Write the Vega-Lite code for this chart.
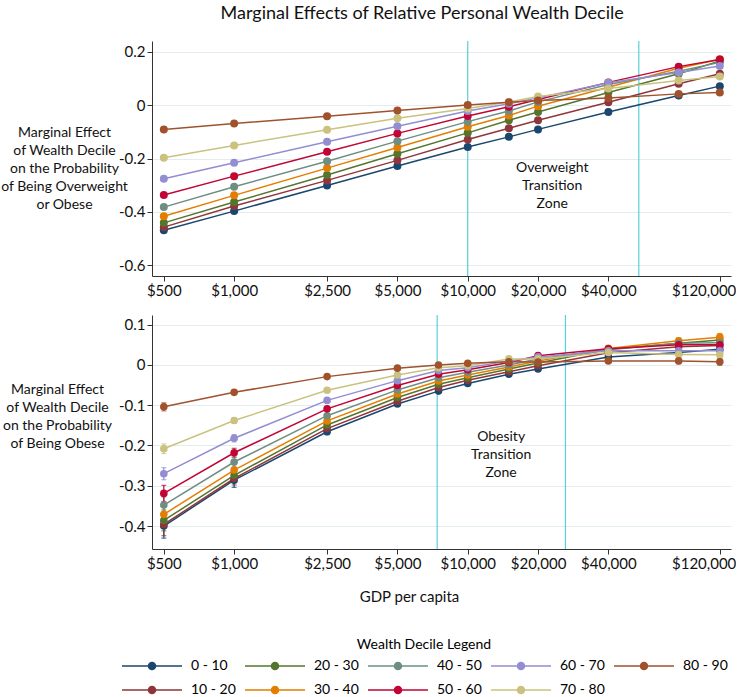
{
"$schema":"https://vega.github.io/schema/vega-lite/v6.json",
"padding":{"left":0,"top":5,"right":0,"bottom":0},
"title":{"text":"Marginal Effects of Relative Personal Wealth Decile","fontSize":18,"font":"Lato","fontWeight":"normal","anchor":"middle","frame":"bounds","offset":17,"dx":54,"color":"#111"},
"config":{"font":"Lato","view":{"stroke":null},
"axis":{"labelFont":"Lato","titleFont":"Lato","labelFontSize":15,"labelColor":"#111","domainColor":"#333","tickColor":"#333","gridColor":"#e3eded","titleFontWeight":"normal","titleColor":"#111","tickSize":5,"labelOverlap":false}},
"datasets":{
"ow":[
{"gdp":500,"decile":"0 - 10","me":-0.469},{"gdp":1000,"decile":"0 - 10","me":-0.397},{"gdp":2500,"decile":"0 - 10","me":-0.301},{"gdp":5000,"decile":"0 - 10","me":-0.228},{"gdp":10000,"decile":"0 - 10","me":-0.157},{"gdp":15000,"decile":"0 - 10","me":-0.119},{"gdp":20000,"decile":"0 - 10","me":-0.091},{"gdp":40000,"decile":"0 - 10","me":-0.026},{"gdp":80000,"decile":"0 - 10","me":0.036},{"gdp":120000,"decile":"0 - 10","me":0.071},
{"gdp":500,"decile":"10 - 20","me":-0.457},{"gdp":1000,"decile":"10 - 20","me":-0.378},{"gdp":2500,"decile":"10 - 20","me":-0.282},{"gdp":5000,"decile":"10 - 20","me":-0.207},{"gdp":10000,"decile":"10 - 20","me":-0.129},{"gdp":15000,"decile":"10 - 20","me":-0.087},{"gdp":20000,"decile":"10 - 20","me":-0.057},{"gdp":40000,"decile":"10 - 20","me":0.011},{"gdp":80000,"decile":"10 - 20","me":0.080},{"gdp":120000,"decile":"10 - 20","me":0.117},
{"gdp":500,"decile":"20 - 30","me":-0.441},{"gdp":1000,"decile":"20 - 30","me":-0.363},{"gdp":2500,"decile":"20 - 30","me":-0.262},{"gdp":5000,"decile":"20 - 30","me":-0.182},{"gdp":10000,"decile":"20 - 30","me":-0.104},{"gdp":15000,"decile":"20 - 30","me":-0.057},{"gdp":20000,"decile":"20 - 30","me":-0.026},{"gdp":40000,"decile":"20 - 30","me":0.047},{"gdp":80000,"decile":"20 - 30","me":0.117},{"gdp":120000,"decile":"20 - 30","me":0.165},
{"gdp":500,"decile":"30 - 40","me":-0.416},{"gdp":1000,"decile":"30 - 40","me":-0.338},{"gdp":2500,"decile":"30 - 40","me":-0.236},{"gdp":5000,"decile":"30 - 40","me":-0.159},{"gdp":10000,"decile":"30 - 40","me":-0.081},{"gdp":15000,"decile":"30 - 40","me":-0.039},{"gdp":20000,"decile":"30 - 40","me":-0.004},{"gdp":40000,"decile":"30 - 40","me":0.067},{"gdp":80000,"decile":"30 - 40","me":0.138},{"gdp":120000,"decile":"30 - 40","me":0.172},
{"gdp":500,"decile":"40 - 50","me":-0.382},{"gdp":1000,"decile":"40 - 50","me":-0.306},{"gdp":2500,"decile":"40 - 50","me":-0.210},{"gdp":5000,"decile":"40 - 50","me":-0.135},{"gdp":10000,"decile":"40 - 50","me":-0.062},{"gdp":15000,"decile":"40 - 50","me":-0.022},{"gdp":20000,"decile":"40 - 50","me":0.012},{"gdp":40000,"decile":"40 - 50","me":0.077},{"gdp":80000,"decile":"40 - 50","me":0.127},{"gdp":120000,"decile":"40 - 50","me":0.160},
{"gdp":500,"decile":"50 - 60","me":-0.337},{"gdp":1000,"decile":"50 - 60","me":-0.266},{"gdp":2500,"decile":"50 - 60","me":-0.175},{"gdp":5000,"decile":"50 - 60","me":-0.106},{"gdp":10000,"decile":"50 - 60","me":-0.041},{"gdp":15000,"decile":"50 - 60","me":-0.006},{"gdp":20000,"decile":"50 - 60","me":0.021},{"gdp":40000,"decile":"50 - 60","me":0.085},{"gdp":80000,"decile":"50 - 60","me":0.144},{"gdp":120000,"decile":"50 - 60","me":0.171},
{"gdp":500,"decile":"60 - 70","me":-0.276},{"gdp":1000,"decile":"60 - 70","me":-0.216},{"gdp":2500,"decile":"60 - 70","me":-0.137},{"gdp":5000,"decile":"60 - 70","me":-0.079},{"gdp":10000,"decile":"60 - 70","me":-0.022},{"gdp":15000,"decile":"60 - 70","me":0.005},{"gdp":20000,"decile":"60 - 70","me":0.027},{"gdp":40000,"decile":"60 - 70","me":0.084},{"gdp":80000,"decile":"60 - 70","me":0.122},{"gdp":120000,"decile":"60 - 70","me":0.146},
{"gdp":500,"decile":"70 - 80","me":-0.197},{"gdp":1000,"decile":"70 - 80","me":-0.151},{"gdp":2500,"decile":"70 - 80","me":-0.092},{"gdp":5000,"decile":"70 - 80","me":-0.049},{"gdp":10000,"decile":"70 - 80","me":-0.013},{"gdp":15000,"decile":"70 - 80","me":0.012},{"gdp":20000,"decile":"70 - 80","me":0.032},{"gdp":40000,"decile":"70 - 80","me":0.062},{"gdp":80000,"decile":"70 - 80","me":0.092},{"gdp":120000,"decile":"70 - 80","me":0.107},
{"gdp":500,"decile":"80 - 90","me":-0.091},{"gdp":1000,"decile":"80 - 90","me":-0.069},{"gdp":2500,"decile":"80 - 90","me":-0.042},{"gdp":5000,"decile":"80 - 90","me":-0.020},{"gdp":10000,"decile":"80 - 90","me":0.000},{"gdp":15000,"decile":"80 - 90","me":0.011},{"gdp":20000,"decile":"80 - 90","me":0.017},{"gdp":40000,"decile":"80 - 90","me":0.027},{"gdp":80000,"decile":"80 - 90","me":0.042},{"gdp":120000,"decile":"80 - 90","me":0.047}
],
"ob":[
{"gdp":500,"decile":"0 - 10","me":-0.400,"lo":-0.430,"hi":-0.370},{"gdp":1000,"decile":"0 - 10","me":-0.286,"lo":-0.304,"hi":-0.268},{"gdp":2500,"decile":"0 - 10","me":-0.166,"lo":-0.173,"hi":-0.159},{"gdp":5000,"decile":"0 - 10","me":-0.097,"lo":-0.101,"hi":-0.093},{"gdp":7500,"decile":"0 - 10","me":-0.065,"lo":-0.068,"hi":-0.062},{"gdp":10000,"decile":"0 - 10","me":-0.046,"lo":-0.049,"hi":-0.043},{"gdp":15000,"decile":"0 - 10","me":-0.023,"lo":-0.026,"hi":-0.020},{"gdp":20000,"decile":"0 - 10","me":-0.010,"lo":-0.013,"hi":-0.007},{"gdp":40000,"decile":"0 - 10","me":0.020,"lo":0.016,"hi":0.024},{"gdp":80000,"decile":"0 - 10","me":0.031,"lo":0.024,"hi":0.038},{"gdp":120000,"decile":"0 - 10","me":0.039,"lo":0.030,"hi":0.048},
{"gdp":500,"decile":"10 - 20","me":-0.396,"lo":-0.424,"hi":-0.368},{"gdp":1000,"decile":"10 - 20","me":-0.282,"lo":-0.298,"hi":-0.266},{"gdp":2500,"decile":"10 - 20","me":-0.158,"lo":-0.165,"hi":-0.151},{"gdp":5000,"decile":"10 - 20","me":-0.090,"lo":-0.094,"hi":-0.086},{"gdp":7500,"decile":"10 - 20","me":-0.056,"lo":-0.059,"hi":-0.053},{"gdp":10000,"decile":"10 - 20","me":-0.038,"lo":-0.041,"hi":-0.035},{"gdp":15000,"decile":"10 - 20","me":-0.017,"lo":-0.020,"hi":-0.014},{"gdp":20000,"decile":"10 - 20","me":-0.002,"lo":-0.005,"hi":0.001},{"gdp":40000,"decile":"10 - 20","me":0.030,"lo":0.026,"hi":0.034},{"gdp":80000,"decile":"10 - 20","me":0.045,"lo":0.038,"hi":0.052},{"gdp":120000,"decile":"10 - 20","me":0.048,"lo":0.039,"hi":0.057},
{"gdp":500,"decile":"20 - 30","me":-0.386,"lo":-0.412,"hi":-0.360},{"gdp":1000,"decile":"20 - 30","me":-0.274,"lo":-0.288,"hi":-0.260},{"gdp":2500,"decile":"20 - 30","me":-0.149,"lo":-0.155,"hi":-0.143},{"gdp":5000,"decile":"20 - 30","me":-0.081,"lo":-0.085,"hi":-0.077},{"gdp":7500,"decile":"20 - 30","me":-0.048,"lo":-0.051,"hi":-0.045},{"gdp":10000,"decile":"20 - 30","me":-0.032,"lo":-0.035,"hi":-0.029},{"gdp":15000,"decile":"20 - 30","me":-0.010,"lo":-0.013,"hi":-0.007},{"gdp":20000,"decile":"20 - 30","me":0.005,"lo":0.002,"hi":0.008},{"gdp":40000,"decile":"20 - 30","me":0.039,"lo":0.035,"hi":0.043},{"gdp":80000,"decile":"20 - 30","me":0.054,"lo":0.047,"hi":0.061},{"gdp":120000,"decile":"20 - 30","me":0.062,"lo":0.053,"hi":0.071},
{"gdp":500,"decile":"30 - 40","me":-0.371,"lo":-0.395,"hi":-0.347},{"gdp":1000,"decile":"30 - 40","me":-0.261,"lo":-0.274,"hi":-0.248},{"gdp":2500,"decile":"30 - 40","me":-0.139,"lo":-0.145,"hi":-0.133},{"gdp":5000,"decile":"30 - 40","me":-0.072,"lo":-0.076,"hi":-0.068},{"gdp":7500,"decile":"30 - 40","me":-0.040,"lo":-0.043,"hi":-0.037},{"gdp":10000,"decile":"30 - 40","me":-0.025,"lo":-0.028,"hi":-0.022},{"gdp":15000,"decile":"30 - 40","me":-0.005,"lo":-0.008,"hi":-0.002},{"gdp":20000,"decile":"30 - 40","me":0.010,"lo":0.007,"hi":0.013},{"gdp":40000,"decile":"30 - 40","me":0.041,"lo":0.037,"hi":0.045},{"gdp":80000,"decile":"30 - 40","me":0.060,"lo":0.053,"hi":0.067},{"gdp":120000,"decile":"30 - 40","me":0.069,"lo":0.060,"hi":0.078},
{"gdp":500,"decile":"40 - 50","me":-0.348,"lo":-0.368,"hi":-0.328},{"gdp":1000,"decile":"40 - 50","me":-0.241,"lo":-0.253,"hi":-0.229},{"gdp":2500,"decile":"40 - 50","me":-0.126,"lo":-0.132,"hi":-0.120},{"gdp":5000,"decile":"40 - 50","me":-0.062,"lo":-0.066,"hi":-0.058},{"gdp":7500,"decile":"40 - 50","me":-0.032,"lo":-0.035,"hi":-0.029},{"gdp":10000,"decile":"40 - 50","me":-0.018,"lo":-0.021,"hi":-0.015},{"gdp":15000,"decile":"40 - 50","me":0.000,"lo":-0.003,"hi":0.003},{"gdp":20000,"decile":"40 - 50","me":0.015,"lo":0.012,"hi":0.018},{"gdp":40000,"decile":"40 - 50","me":0.038,"lo":0.034,"hi":0.042},{"gdp":80000,"decile":"40 - 50","me":0.054,"lo":0.047,"hi":0.061},{"gdp":120000,"decile":"40 - 50","me":0.055,"lo":0.046,"hi":0.064},
{"gdp":500,"decile":"50 - 60","me":-0.319,"lo":-0.339,"hi":-0.299},{"gdp":1000,"decile":"50 - 60","me":-0.218,"lo":-0.229,"hi":-0.207},{"gdp":2500,"decile":"50 - 60","me":-0.109,"lo":-0.115,"hi":-0.103},{"gdp":5000,"decile":"50 - 60","me":-0.051,"lo":-0.055,"hi":-0.047},{"gdp":7500,"decile":"50 - 60","me":-0.023,"lo":-0.026,"hi":-0.020},{"gdp":10000,"decile":"50 - 60","me":-0.012,"lo":-0.015,"hi":-0.009},{"gdp":15000,"decile":"50 - 60","me":0.006,"lo":0.003,"hi":0.009},{"gdp":20000,"decile":"50 - 60","me":0.023,"lo":0.020,"hi":0.026},{"gdp":40000,"decile":"50 - 60","me":0.040,"lo":0.036,"hi":0.044},{"gdp":80000,"decile":"50 - 60","me":0.050,"lo":0.043,"hi":0.057},{"gdp":120000,"decile":"50 - 60","me":0.050,"lo":0.041,"hi":0.059},
{"gdp":500,"decile":"60 - 70","me":-0.270,"lo":-0.285,"hi":-0.255},{"gdp":1000,"decile":"60 - 70","me":-0.182,"lo":-0.191,"hi":-0.173},{"gdp":2500,"decile":"60 - 70","me":-0.088,"lo":-0.093,"hi":-0.083},{"gdp":5000,"decile":"60 - 70","me":-0.039,"lo":-0.043,"hi":-0.035},{"gdp":7500,"decile":"60 - 70","me":-0.014,"lo":-0.017,"hi":-0.011},{"gdp":10000,"decile":"60 - 70","me":-0.007,"lo":-0.010,"hi":-0.004},{"gdp":15000,"decile":"60 - 70","me":0.010,"lo":0.007,"hi":0.013},{"gdp":20000,"decile":"60 - 70","me":0.020,"lo":0.017,"hi":0.023},{"gdp":40000,"decile":"60 - 70","me":0.035,"lo":0.031,"hi":0.039},{"gdp":80000,"decile":"60 - 70","me":0.035,"lo":0.028,"hi":0.042},{"gdp":120000,"decile":"60 - 70","me":0.035,"lo":0.026,"hi":0.044},
{"gdp":500,"decile":"70 - 80","me":-0.208,"lo":-0.220,"hi":-0.196},{"gdp":1000,"decile":"70 - 80","me":-0.138,"lo":-0.145,"hi":-0.131},{"gdp":2500,"decile":"70 - 80","me":-0.063,"lo":-0.068,"hi":-0.058},{"gdp":5000,"decile":"70 - 80","me":-0.025,"lo":-0.029,"hi":-0.021},{"gdp":7500,"decile":"70 - 80","me":-0.007,"lo":-0.010,"hi":-0.004},{"gdp":10000,"decile":"70 - 80","me":-0.002,"lo":-0.005,"hi":0.001},{"gdp":15000,"decile":"70 - 80","me":0.015,"lo":0.012,"hi":0.018},{"gdp":20000,"decile":"70 - 80","me":0.015,"lo":0.012,"hi":0.018},{"gdp":40000,"decile":"70 - 80","me":0.031,"lo":0.027,"hi":0.035},{"gdp":80000,"decile":"70 - 80","me":0.026,"lo":0.019,"hi":0.033},{"gdp":120000,"decile":"70 - 80","me":0.025,"lo":0.016,"hi":0.034},
{"gdp":500,"decile":"80 - 90","me":-0.104,"lo":-0.114,"hi":-0.094},{"gdp":1000,"decile":"80 - 90","me":-0.068,"lo":-0.074,"hi":-0.062},{"gdp":2500,"decile":"80 - 90","me":-0.029,"lo":-0.033,"hi":-0.025},{"gdp":5000,"decile":"80 - 90","me":-0.008,"lo":-0.012,"hi":-0.004},{"gdp":7500,"decile":"80 - 90","me":0.000,"lo":-0.003,"hi":0.003},{"gdp":10000,"decile":"80 - 90","me":0.004,"lo":0.001,"hi":0.007},{"gdp":15000,"decile":"80 - 90","me":0.008,"lo":0.005,"hi":0.011},{"gdp":20000,"decile":"80 - 90","me":0.007,"lo":0.004,"hi":0.010},{"gdp":40000,"decile":"80 - 90","me":0.010,"lo":0.006,"hi":0.014},{"gdp":80000,"decile":"80 - 90","me":0.010,"lo":0.003,"hi":0.017},{"gdp":120000,"decile":"80 - 90","me":0.008,"lo":-0.001,"hi":0.017}
],
"owzone":[{"gdp":10000},{"gdp":54000}],
"obzone":[{"gdp":7400},{"gdp":26200}],
"owlabel":[{"gdp":23000,"me":-0.21,"label":"Overweight\nTransition\nZone"}],
"oblabel":[{"gdp":13900,"me":-0.161,"label":"Obesity\nTransition\nZone"}]
},
"spacing":16,
"vconcat":[
{"width":579,"height":235,
"layer":[
{"data":{"name":"owzone"},"mark":{"type":"rule","color":"#55d0dc","strokeWidth":1.2},
"encoding":{"x":{"field":"gdp","type":"quantitative","scale":{"type":"log","domain":[445,134000],"nice":false}}}},
{"data":{"name":"ow"},"mark":{"type":"line","strokeWidth":1.5},
"encoding":{
"x":{"field":"gdp","type":"quantitative","scale":{"type":"log","domain":[445,134000],"nice":false},"axis":{"title":null,"values":[500,1000,2500,5000,10000,20000,40000,120000],"format":"$,.0f","grid":false,"labelFlush":11.5,"labelFlushOffset":16}},
"y":{"field":"me","type":"quantitative","scale":{"domain":[-0.64,0.24],"nice":false,"zero":false},"axis":{"title":["Marginal Effect","of Wealth Decile","on the Probability","of Being Overweight","or Obese"],"titleAngle":0,"titleAlign":"center","titleBaseline":"top","titleX":-88,"titleY":84,"titleFontSize":14,"titleLineHeight":18,"values":[-0.6,-0.4,-0.2,0,0.2],"labelExpr":"toString(datum.value)","grid":true}},
"color":{"field":"decile","type":"nominal","scale":{"domain":["0 - 10","20 - 30","40 - 50","60 - 70","80 - 90","10 - 20","30 - 40","50 - 60","70 - 80"],"range":["#1a476f","#55752f","#6e8e84","#938dd2","#a0522d","#90353b","#e37e00","#c10534","#cac27e"]},
"legend":{"title":"Wealth Decile Legend","orient":"none","legendX":-31,"legendY":597,"direction":"horizontal","columns":5,"symbolType":"M-1,0L1,0M-0.117,0A0.117,0.117,0,1,1,0.117,0A0.117,0.117,0,1,1,-0.117,0Z","symbolSize":3600,"symbolStrokeWidth":1.5,"clipHeight":18,"labelFontSize":14,"labelFont":"Lato","titleFont":"Lato","titleFontSize":14,"titleFontWeight":"normal","titleAnchor":"middle","labelOffset":8,"columnPadding":8,"rowPadding":6,"gridAlign":"all","encode":{"symbols":{"update":{"fill":{"scale":"color","field":"value"},"stroke":{"scale":"color","field":"value"},"opacity":{"value":1}}}}}}
}},
{"data":{"name":"ow"},"mark":{"type":"circle","size":64,"opacity":1},
"encoding":{
"x":{"field":"gdp","type":"quantitative","scale":{"type":"log","domain":[445,134000],"nice":false}},
"y":{"field":"me","type":"quantitative"},
"color":{"field":"decile","type":"nominal"}
}},
{"data":{"name":"owlabel"},"mark":{"type":"text","lineBreak":"\n","baseline":"top","align":"center","fontSize":14,"lineHeight":18,"font":"Lato","color":"#111"},
"encoding":{"x":{"field":"gdp","type":"quantitative"},"y":{"field":"me","type":"quantitative"},"text":{"field":"label"}}}
]},
{"width":579,"height":234,
"layer":[
{"data":{"name":"obzone"},"mark":{"type":"rule","color":"#55d0dc","strokeWidth":1.2},
"encoding":{"x":{"field":"gdp","type":"quantitative","scale":{"type":"log","domain":[445,134000],"nice":false}}}},
{"data":{"name":"ob"},"mark":{"type":"line","strokeWidth":1.5},
"encoding":{
"x":{"field":"gdp","type":"quantitative","scale":{"type":"log","domain":[445,134000],"nice":false},"axis":{"title":"GDP per capita","titleFontSize":15,"titleX":257,"titleY":47,"titleBaseline":"middle","values":[500,1000,2500,5000,10000,20000,40000,120000],"format":"$,.0f","grid":false,"labelFlush":11.5,"labelFlushOffset":16}},
"y":{"field":"me","type":"quantitative","scale":{"domain":[-0.457,0.124],"nice":false,"zero":false},"axis":{"title":["Marginal Effect","of Wealth Decile","on the Probability","of Being Obese"],"titleAngle":0,"titleAlign":"center","titleBaseline":"top","titleX":-95,"titleY":67,"titleFontSize":14,"titleLineHeight":18,"values":[-0.4,-0.3,-0.2,-0.1,0,0.1],"labelExpr":"toString(datum.value)","grid":true}},
"color":{"field":"decile","type":"nominal"}
}},
{"data":{"name":"ob"},"mark":{"type":"errorbar","ticks":true,"thickness":1.2},
"encoding":{
"x":{"field":"gdp","type":"quantitative","scale":{"type":"log","domain":[445,134000],"nice":false}},
"y":{"field":"lo","type":"quantitative","title":["Marginal Effect","of Wealth Decile","on the Probability","of Being Obese"]},
"y2":{"field":"hi"},
"color":{"field":"decile","type":"nominal"}
}},
{"data":{"name":"ob"},"mark":{"type":"circle","size":58,"opacity":1},
"encoding":{
"x":{"field":"gdp","type":"quantitative","scale":{"type":"log","domain":[445,134000],"nice":false}},
"y":{"field":"me","type":"quantitative"},
"color":{"field":"decile","type":"nominal"}
}},
{"data":{"name":"oblabel"},"mark":{"type":"text","lineBreak":"\n","baseline":"top","align":"center","fontSize":14,"lineHeight":18,"font":"Lato","color":"#111"},
"encoding":{"x":{"field":"gdp","type":"quantitative"},"y":{"field":"me","type":"quantitative"},"text":{"field":"label"}}}
]}
]
}
